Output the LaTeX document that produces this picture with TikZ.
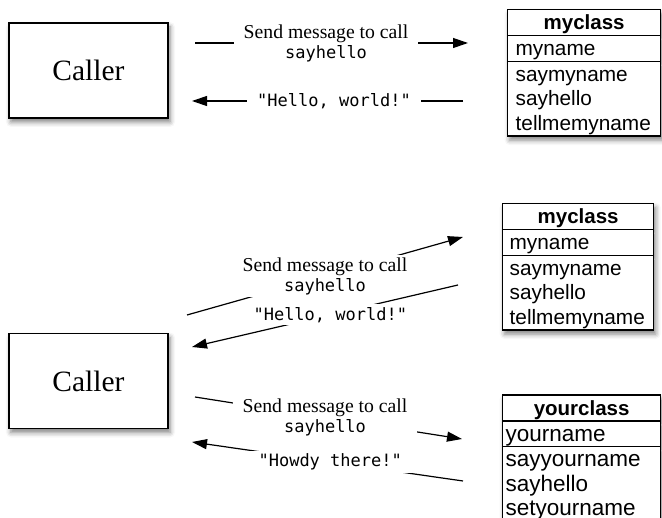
\documentclass[tikz,border=0pt]{standalone}
\usepackage{fontspec}
\setmainfont{Liberation Serif}
\setsansfont{Liberation Sans}
\setmonofont{DejaVu Sans Mono}
\usepackage{tikz}
\usetikzlibrary{arrows.meta,shapes.multipart,shadows.blur}
\tikzstyle{boxshadow}=[blur shadow={shadow xshift=2pt,shadow yshift=-4pt,shadow blur radius=5pt,shadow opacity=50}]
\tikzstyle{caller}=[draw,line width=1.3pt,fill=white,boxshadow,minimum width=159pt,minimum height=95pt,font=\fontsize{29.5}{30}\selectfont]
\tikzstyle{classbox}=[draw,line width=1.3pt,fill=white,boxshadow,rectangle split,rectangle split parts=3,inner ysep=0pt,inner xsep=8pt,text width=137pt,align=left,anchor=north west,font=\sffamily\fontsize{20.8}{24.5}\selectfont]
\tikzstyle{msg}=[line width=1.2pt,-{Triangle[length=15pt,width=10pt]}]
\tikzstyle{msglabel}=[fill=white,inner xsep=10pt,inner ysep=2pt,align=center,font=\fontsize{19.7}{20}\selectfont]
\tikzstyle{replylabel}=[fill=white,inner xsep=10pt,inner ysep=3pt,font=\ttfamily\fontsize{17}{20}\selectfont]
\newcommand{\cstrut}{\rule[-5pt]{0pt}{24.5pt}}
\newcommand{\classname}[1]{\null\hfill{\fontsize{20.5}{24.5}\selectfont\textbf{#1}}\cstrut\hfill\null}
\newcommand{\mono}[1]{{\ttfamily\fontsize{17}{20}\selectfont #1}}

\begin{document}
\begin{tikzpicture}[x=1pt,y=-1pt]
\path [use as bounding box,clip] (0,0) rectangle (662,518);

\node [caller] (caller1) at (88.5,70.5) {Caller};
\node [classbox] (myclass1) at (507,9) {\classname{myclass}
  \nodepart{two}\cstrut myname
  \nodepart{three}\cstrut saymyname\\\cstrut sayhello\\\cstrut tellmemyname};

\coordinate (send1a) at (195,43);
\coordinate (send1b) at (468,43);
\coordinate (reply1a) at (463,101);
\coordinate (reply1b) at (192,101);
\draw [msg] (send1a) -- (send1b) node [msglabel,pos=0.48] (send1) {Send message to call\\\mono{sayhello}};
\draw [msg] (reply1a) -- (reply1b) node [replylabel,pos=0.476] (reply1) {"Hello, world!"};

\node [caller] (caller2) at (88.5,381) {Caller};
\node [classbox,inner xsep=7pt] (myclass2) at (502,203) {\classname{myclass}
  \nodepart{two}\cstrut myname
  \nodepart{three}\cstrut saymyname\\\cstrut sayhello\\\cstrut tellmemyname};
\node [classbox,inner xsep=3pt,text width=152pt,font=\sffamily\fontsize{22.5}{24.5}\selectfont] (yourclass) at (502,394.5) {\classname{yourclass}
  \nodepart{two}\cstrut yourname
  \nodepart{three}\cstrut sayyourname\\\cstrut sayhello\\\cstrut setyourname};

\coordinate (send2a) at (187,315);
\coordinate (send2b) at (463,237);
\coordinate (reply2a) at (458,285);
\coordinate (reply2b) at (192,347);
\coordinate (send3a) at (195,397);
\coordinate (send3b) at (462,439);
\coordinate (reply3a) at (463,481);
\coordinate (reply3b) at (192,442);
\draw [msg] (send2a) -- (send2b) node [msglabel,pos=0.5] (send2) {Send message to call\\\mono{sayhello}};
\draw [msg] (reply2a) -- (reply2b) node [replylabel,pos=0.48] (reply2) {"Hello, world!"};
\draw [msg] (send3a) -- (send3b) node [msglabel,pos=0.487] (send3) {Send message to call\\\mono{sayhello}};
\draw [msg] (reply3a) -- (reply3b) node [replylabel,pos=0.49] (reply3) {"Howdy there!"};
\end{tikzpicture}
\end{document}
